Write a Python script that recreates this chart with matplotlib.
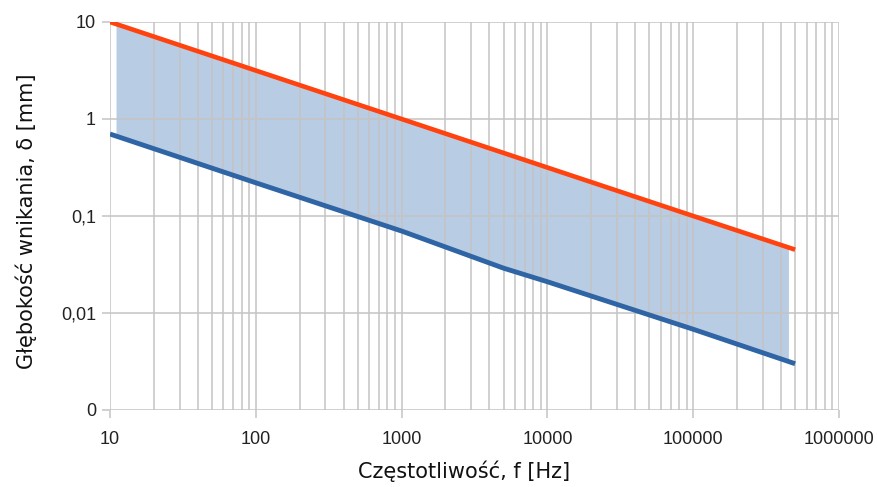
import matplotlib
matplotlib.use("Agg")
import matplotlib.pyplot as plt
from matplotlib.ticker import FixedLocator, FixedFormatter, NullFormatter, LogLocator

# Data
freq_red = [10, 100, 1000, 10000, 100000, 500000]
delta_red = [10.0, 3.16, 1.0, 0.316, 0.1, 0.045]

freq_blue = [10, 100, 1000, 5000, 10000, 100000, 500000]
delta_blue = [0.70, 0.22, 0.070, 0.029, 0.021, 0.0068, 0.0030]

fill_freq = [11, 100, 1000, 5000, 10000, 100000, 450000]
fill_upper = [9.5, 3.16, 1.0, 0.447, 0.316, 0.1, 0.047]
fill_lower = [0.67, 0.22, 0.070, 0.029, 0.021, 0.0068, 0.0032]

x_ticks = [10, 100, 1000, 10000, 100000, 1000000]
x_labels = ["10", "100", "1000", "10000", "100000", "1000000"]
y_ticks = [0.001, 0.01, 0.1, 1, 10]
y_labels = ["0", "0,01", "0,1", "1", "10"]

plt.rcParams['font.family'] = ['DejaVu Sans']

fig = plt.figure(figsize=(8.79, 4.87), dpi=100)
ax = fig.add_axes([110/879, 77/487, 729/879, 388/487])
ax.set_xscale('log')
ax.set_yscale('log')
ax.set_xlim(10, 1000000)
ax.set_ylim(0.001, 10)

ax.set_axisbelow(True)
ax.fill_between(fill_freq, fill_lower, fill_upper, color='#b8cce4', linewidth=0, zorder=0.4)
ax.plot(freq_red, delta_red, color='#ff420e', linewidth=3.3, solid_capstyle='butt', zorder=3)
ax.plot(freq_blue, delta_blue, color='#2f65a5', linewidth=3.5, solid_capstyle='butt', zorder=3)

ax.xaxis.set_major_locator(FixedLocator(x_ticks))
ax.xaxis.set_major_formatter(FixedFormatter(x_labels))
ax.xaxis.set_minor_locator(LogLocator(base=10, subs=range(2, 10), numticks=20))
ax.xaxis.set_minor_formatter(NullFormatter())
ax.yaxis.set_major_locator(FixedLocator(y_ticks))
ax.yaxis.set_major_formatter(FixedFormatter(y_labels))
ax.yaxis.set_minor_locator(FixedLocator([]))

ax.grid(True, which='major', axis='both', color='#c4c4c4', linewidth=1.1)
ax.grid(True, which='minor', axis='x', color='#c4c4c4', linewidth=1.1)

for s in ax.spines.values():
    s.set_visible(False)

ax.tick_params(axis='both', which='major', length=6, width=1.1, color='#c4c4c4',
               labelsize=13, labelcolor='#222222')
ax.tick_params(axis='x', which='major', pad=9)
ax.tick_params(axis='y', which='major', pad=4)
ax.tick_params(axis='x', which='minor', length=0)
for lab in ax.get_xticklabels() + ax.get_yticklabels():
    lab.set_fontfamily(['Liberation Sans', 'DejaVu Sans'])

ax.set_xlabel("Częstotliwość, f [Hz]", fontsize=15, color='#111111', labelpad=9)
ax.set_ylabel("Głębokość wnikania, δ [mm]", fontsize=15, color='#111111', labelpad=17)
ax.xaxis.label.set_x((464 - 110) / 729)
ax.yaxis.label.set_y((410 - 221) / 388)

fig.savefig("out.png", dpi=100, facecolor='white')
